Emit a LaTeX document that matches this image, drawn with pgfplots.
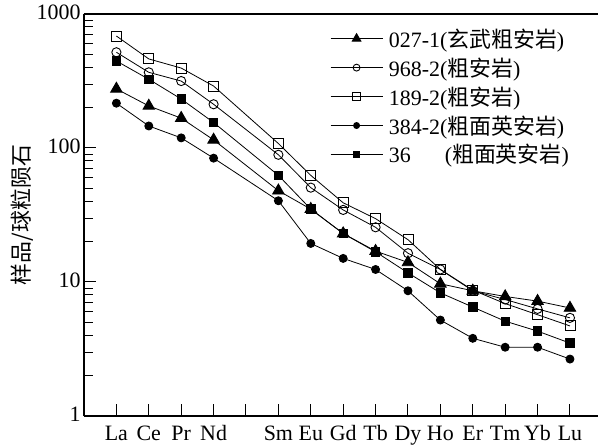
\documentclass[border=0pt]{standalone}
\usepackage{fontspec}
\setmainfont{Liberation Serif}
\newfontfamily\cjk{Noto Sans CJK SC}
\usepackage{pgfplots}
\pgfplotsset{compat=1.18}
\begin{document}
\begin{tikzpicture}[font=\fontsize{22}{26}\selectfont]
\path[use as bounding box] (-84bp,-32bp) rectangle (514bp,416bp);
\begin{axis}[
  at={(0,0)}, anchor=south west, scale only axis,
  width=513.5bp, height=402bp,
  xmin=0, xmax=15.85,
  ymode=log, ymin=1, ymax=1000,
  axis x line*=box, axis y line*=left,
  axis line style={line width=1.8bp},
  xtick={1,...,15},
  xticklabels={La,Ce,Pr,Nd,,Sm,Eu,Gd,Tb,Dy,Ho,Er,Tm,Yb,Lu},
  xtick pos=bottom, ytick pos=left,
  ytick={1,10,100,1000}, yticklabels={1,10,100,1000},
  minor ytick={2,3,4,5,6,7,8,9,20,30,40,50,60,70,80,90,200,300,400,500,600,700,800,900},
  tick align=inside,
  major tick length=12bp, minor tick length=9bp,
  every tick/.style={black, line width=1bp},
  typeset ticklabels with strut,
  xticklabel style={yshift=-3bp},
  ylabel={\cjk 样品/球粒陨石},
  ylabel style={at={(axis description cs:-0.1207,0.5)}, anchor=center},
  legend cell align=left,
  legend style={draw=none, fill=none, at={(axis description cs:0.479,0.969)}, anchor=north west,
    inner sep=0pt, row sep=5bp,
    nodes={inner xsep=0pt, inner ysep=2bp},
    /tikz/every odd column/.append style={column sep=6bp}},
  legend image code/.code={\draw[mark repeat=2,mark phase=2,#1, every mark/.append style={scale=0.75}] plot coordinates {(0bp,0bp)(26bp,0bp)(52bp,0bp)};},
  every axis plot/.append style={black, line width=0.8bp},
]
\addplot[mark=triangle*, mark size=6.6bp, mark options={solid, line width=0.9bp}] coordinates {
(1,276) (2,206) (3,167) (4,115) (6,48) (7,35) (8,23) (9,17) (10,14) (11,9.7) (12,8.6) (13,7.8) (14,7.2) (15,6.4)};
\addlegendentry{027-1({\cjk 玄武粗安岩})}
\addplot[mark=o, mark size=4.6bp, mark options={solid, fill=white, line width=0.9bp}] coordinates {
(1,518) (2,367) (3,316) (4,212) (6,89) (7,50.6) (8,34.5) (9,25.6) (10,16.4) (11,12.4) (12,8.6) (13,7.4) (14,6.3) (15,5.4)};
\addlegendentry{968-2({\cjk 粗安岩})}
\addplot[mark=square, mark size=5bp, mark options={solid, fill=white, line width=0.9bp}] coordinates {
(1,685) (2,462) (3,395) (4,290) (6,108) (7,62.5) (8,39) (9,29.7) (10,20.7) (11,12.4) (12,8.7) (13,6.9) (14,5.7) (15,4.7)};
\addlegendentry{189-2({\cjk 粗安岩})}
\addplot[mark=*, mark size=4bp, mark options={solid, line width=0.9bp}] coordinates {
(1,216) (2,146) (3,119) (4,84) (6,40.4) (7,19.4) (8,15) (9,12.4) (10,8.6) (11,5.2) (12,3.8) (13,3.26) (14,3.26) (15,2.66)};
\addlegendentry{384-2({\cjk 粗面英安岩})}
\addplot[mark=square*, mark size=4.2bp, mark options={solid, line width=0.9bp}] coordinates {
(1,446) (2,326) (3,232) (4,155) (6,62.5) (7,35) (8,23) (9,16.8) (10,11.7) (11,8.3) (12,6.5) (13,5.1) (14,4.3) (15,3.5)};
\addlegendentry{36\hspace{1.55em}({\cjk 粗面英安岩})}
\end{axis}
\end{tikzpicture}
\end{document}
